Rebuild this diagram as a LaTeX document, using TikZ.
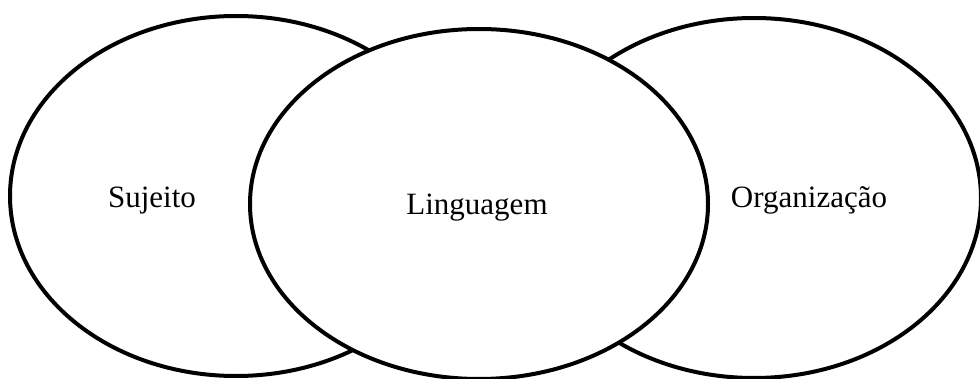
\documentclass[tikz,border=0pt]{standalone}
\usepackage{fontspec}
\setmainfont{Liberation Serif}
\usepackage{tikz}
\usetikzlibrary{positioning}

\begin{document}
\begin{tikzpicture}[x=1pt,y=1pt,
    circ/.style={draw=black,fill=white,line width=4pt},
    lbl/.style={anchor=base,inner sep=0pt,font=\fontsize{31}{36}\selectfont}]
    \useasboundingbox (0,0) rectangle (980,378);
    % outer sets
    \draw[circ] (236,182) ellipse (226pt and 180pt);
    \draw[circ] (754,180) ellipse (227pt and 180pt);
    % middle set on top
    \draw[circ] (479,174) ellipse (229pt and 175pt);
    \node[lbl] (sujeito) at (152,171) {Sujeito};
    \node[lbl] (linguagem) at (477,163) {Linguagem};
    \node[lbl] (organizacao) at (809,171) {Organização};
\end{tikzpicture}
\end{document}
